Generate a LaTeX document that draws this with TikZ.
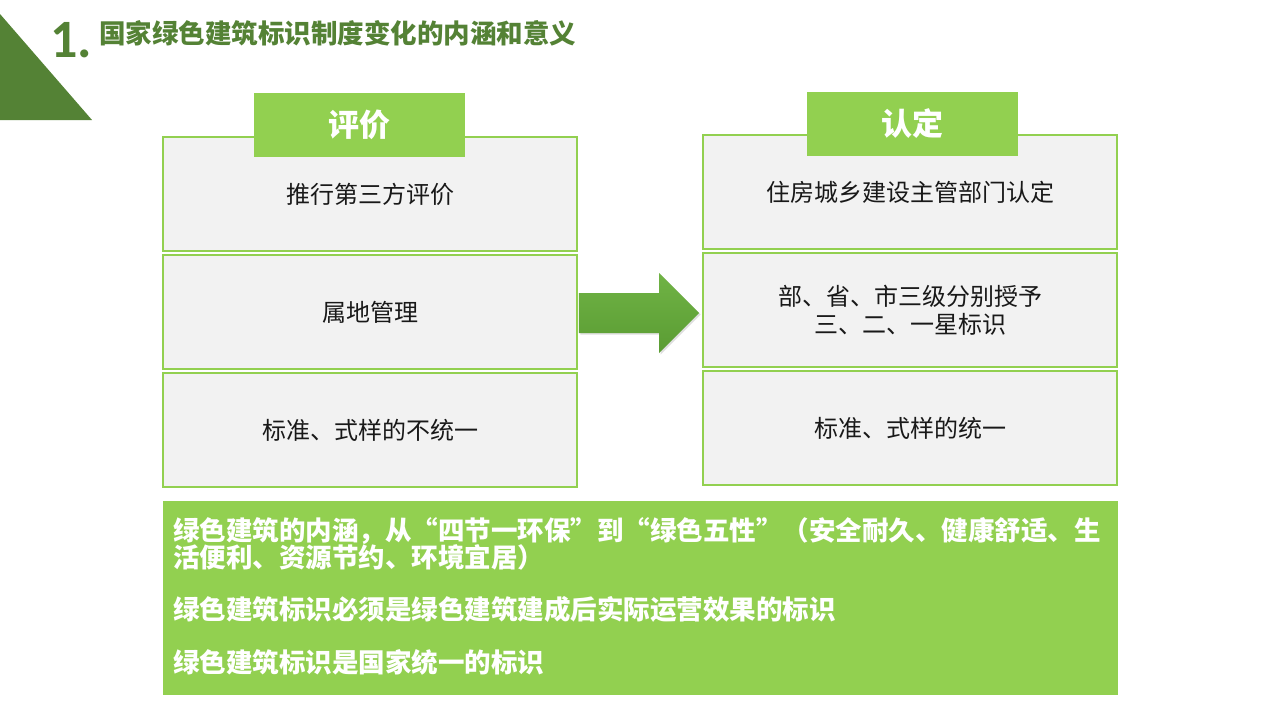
\documentclass[tikz,border=0pt]{standalone}
\usepackage{fontspec}
\newfontfamily\cjk{Noto Sans CJK SC}
\newfontfamily\numfont{Carlito}
\usetikzlibrary{shadows,calc}
\definecolor{lgreen}{HTML}{92D050}
\definecolor{dgreen}{HTML}{548235}
\definecolor{boxgray}{HTML}{F2F2F2}
\definecolor{arrtop}{HTML}{70B345}
\definecolor{arrbot}{HTML}{5A9C33}
\begin{document}
\begin{tikzpicture}[x=1pt,y=-1pt,
  cellbox/.style={draw=lgreen,line width=1.8pt,fill=boxgray,minimum width=414pt,minimum height=114pt,inner sep=0pt,align=center,font=\cjk\fontsize{24}{28}\selectfont,text=black!90},
  headbox/.style={fill=lgreen,minimum width=211pt,minimum height=64pt,inner sep=0pt,font=\cjk\bfseries\fontsize{31}{36}\selectfont,text=white},
  btext/.style={anchor=base west,inner sep=0pt,font=\cjk\bfseries\fontsize{26.5}{27}\selectfont,text=white},
  blockarrow/.style={top color=arrtop,bottom color=arrbot,drop shadow={shadow xshift=1.5pt,shadow yshift=-1.5pt,opacity=0.25}}]
\useasboundingbox (0,0) rectangle (1280,720);
\fill[white] (0,0) rectangle (1280,720);
% corner triangle
\fill[dgreen] (0,14) -- (92,120) -- (0,120) -- cycle;
\node[anchor=base west,inner sep=0pt,text=dgreen,font=\numfont\bfseries\fontsize{54}{54}\selectfont] (num) at (50,57) {1.};
\node[anchor=base west,inner sep=0pt,text=dgreen,font=\cjk\bfseries\fontsize{26.5}{30}\selectfont] (title) at (99,43) {国家绿色建筑标识制度变化的内涵和意义};
% left column
\node[cellbox] (l1) at (370,194) {推行第三方评价};
\node[cellbox] (l2) at (370,312) {属地管理};
\node[cellbox] (l3) at (370,430) {标准、式样的不统一};
\node[headbox] (lh) at (359.5,125) {评价};
% right column
\node[cellbox] (r1) at (910,192) {住房城乡建设主管部门认定};
\node[cellbox] (r2) at (910,310) {部、省、市三级分别授予\\三、二、一星标识};
\node[cellbox] (r3) at (910,428) {标准、式样的统一};
\node[headbox] (rh) at (912.5,124) {认定};
% block arrow between the columns
\coordinate (as) at ($(l2.east)+(1,1)$);
\coordinate (ae) at ($(r2.west)+(-3,3)$);
\path[blockarrow] ($(as)+(0,-20)$) -- ($(ae)+(-40,-20)$) -- ($(ae)+(-40,-40)$) -- (ae)
  -- ($(ae)+(-40,40)$) -- ($(ae)+(-40,20)$) -- ($(as)+(0,20)$) -- cycle;
% bottom box
\node[fill=lgreen,minimum width=955pt,minimum height=194pt,inner sep=0pt] (bot) at (640.5,598) {};
\node[btext] (t1) at (173,540) {绿色建筑的内涵，从“四节一环保”到“绿色五性”（安全耐久、健康舒适、生};
\node[btext] (t2) at (173,567) {活便利、资源节约、环境宜居）};
\node[btext] (t3) at (173,619) {绿色建筑标识必须是绿色建筑建成后实际运营效果的标识};
\node[btext] (t4) at (173,672) {绿色建筑标识是国家统一的标识};
\end{tikzpicture}
\end{document}
